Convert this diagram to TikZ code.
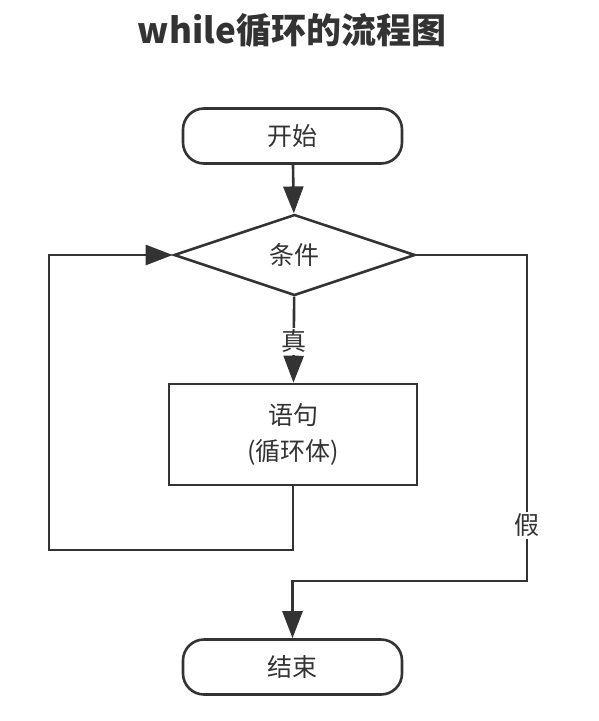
\documentclass[tikz,border=0pt]{standalone}
\usepackage{fontspec}
\setmainfont{Noto Sans CJK SC}
\usepackage{tikz}
\usetikzlibrary{arrows.meta,shapes.geometric}
\definecolor{ink}{HTML}{333333}

\begin{document}
\begin{tikzpicture}[x=1pt,y=-1pt,
  term/.style={draw=ink,line width=2.6pt,rounded corners=21pt,minimum width=219pt,minimum height=55pt,font=\fontsize{25}{30}\selectfont,text=ink},
  decision/.style={diamond,draw=ink,line width=2.6pt,minimum width=241pt,minimum height=81pt,inner sep=0pt,font=\fontsize{25}{30}\selectfont,text=ink},
  proc/.style={draw=ink,line width=2.6pt,minimum width=248pt,minimum height=101pt,align=center,font=\fontsize{25}{36}\selectfont,text=ink},
  flow/.style={draw=ink,line width=2.6pt,-{Triangle[length=27pt,width=20pt]}},
  lbl/.style={fill=white,inner sep=2pt,font=\fontsize{25}{30}\selectfont,text=ink}]
  \useasboundingbox (0,0) rectangle (598,721);

  % Title
  \node[font=\fontsize{35}{40}\selectfont\bfseries,text=ink] (title) at (292,30) {while循环的流程图};

  % Flow nodes
  \node[term] (start) at (292.5,136) {开始};
  \node[decision] (cond) at (294.5,255) {条件};
  \node[proc] (body) at (293,434.5) {语句\\(循环体)};
  \node[term] (stop) at (292.5,667) {结束};

  % Corners of the two loops
  \coordinate (loopL) at (49,550);
  \coordinate (falseR) at (527,581);

  % Connectors
  \draw[flow] (start) -- (cond);
  \draw[flow] (cond) -- node[lbl,pos=0.52] {真} (body);
  \draw[flow] (body.south) |- (loopL) |- (cond.west);
  \draw[flow] (cond.east) -| node[lbl,pos=0.915] {假} (falseR) -| (stop);
\end{tikzpicture}
\end{document}
